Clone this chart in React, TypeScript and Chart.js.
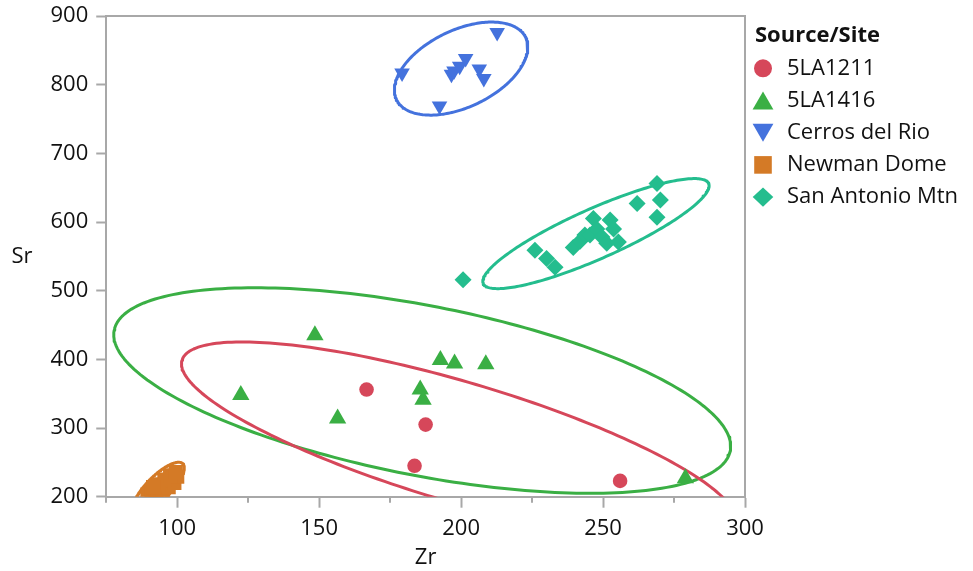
import { useEffect, useRef } from "react";
import { Chart, registerables } from "chart.js";

Chart.register(...registerables);

const FONT = '"Open Sans", "Noto Sans", sans-serif';
const GRAY = "#a8a8a8";
const TEXT = "#111111";

// ---- categories / styles
const groups = ["5LA1211", "5LA1416", "Cerros del Rio", "Newman Dome", "San Antonio Mtn"];
const colors = ["#d6475a", "#3aaf44", "#4472dd", "#d47a26", "#24bd8e"];

// ---- series values (Zr, Sr)
const zr5LA1211 = [166.7, 187.5, 183.6, 256.0];
const sr5LA1211 = [356, 305, 245, 223];

const zr5LA1416 = [122.4, 148.5, 156.5, 185.6, 186.6, 192.7, 197.7, 208.7, 279.0];
const sr5LA1416 = [348, 435, 314, 356, 341, 399, 394, 393, 227];

const zrCerros = [179.2, 192.4, 196.6, 199.5, 201.6, 206.4, 208.0, 212.7, 197.5];
const srCerros = [817, 769, 815, 827, 838, 823, 809, 876, 820];

const zrNewman = [89.5, 91, 92.5, 93, 94, 95, 96, 97, 98, 99, 100, 93.5, 95.5, 97.5, 99.5, 91.5];
const srNewman = [203, 206, 210, 204, 214, 209, 219, 214, 224, 220, 229, 218, 225, 231, 236, 214];

const zrSanAntonio = [200.7, 226.0, 230.1, 233.1, 239.5, 241.9, 243.6, 245.4, 246.6, 247.8, 249.6, 251.3, 252.5, 253.7, 255.4, 262.0, 269.0, 270.2, 269.0];
const srSanAntonio = [516, 559, 547, 534, 563, 572, 581, 581, 605, 590, 578, 569, 603, 590, 571, 627, 656, 632, 607];

// ---- density ellipses (center and two conjugate semi-axes, data units), one per group
const ellipseCx = [199.2, 186.3, 200.0, 93.5, 247.5];
const ellipseCy = [279.5, 354.6, 823.4, 213.0, 583.1];
const ellipseAx = [97.5, 108.5, 22.75, 8.48, 39.7];
const ellipseAy = [-119.3, -87.8, 45.2, 35.0, 72.9];
const ellipseBx = [-6.02, -5.76, 5.88, 3.0, 3.6];
const ellipseBy = [-83.9, -121.2, -50.5, -12.4, -33.3];

// ---- tick labels
const zrTicks = [100, 150, 200, 250, 300];
const zrMinorTicks = [75, 125, 175, 225, 275];
const srTicks = [200, 300, 400, 500, 600, 700, 800, 900];

const seriesZr = [zr5LA1211, zr5LA1416, zrCerros, zrNewman, zrSanAntonio];
const seriesSr = [sr5LA1211, sr5LA1416, srCerros, srNewman, srSanAntonio];
const pointStyles = ["circle", "triangle", "triangle", "rect", "rectRot"];
const pointRotations = [0, 0, 180, 0, 0];
const pointRadii = [7.3, 10, 9, 10, 8.5];

function ellipsePoints(i: number) {
  const pts: { x: number; y: number }[] = [];
  const n = 240;
  for (let k = 0; k <= n + 2; k++) {
    const t = (k / n) * Math.PI * 2;
    pts.push({
      x: ellipseCx[i] + ellipseAx[i] * Math.cos(t) + ellipseBx[i] * Math.sin(t),
      y: ellipseCy[i] + ellipseAy[i] * Math.cos(t) + ellipseBy[i] * Math.sin(t),
    });
  }
  return pts;
}

function drawLegendMarker(ctx: CanvasRenderingContext2D, i: number, cx: number, cy: number) {
  ctx.fillStyle = colors[i];
  ctx.beginPath();
  if (i === 0) {
    ctx.arc(cx, cy, 9, 0, Math.PI * 2);
  } else if (i === 1) {
    ctx.moveTo(cx, cy - 9);
    ctx.lineTo(cx + 10.4, cy + 9);
    ctx.lineTo(cx - 10.4, cy + 9);
  } else if (i === 2) {
    ctx.moveTo(cx - 10.4, cy - 9);
    ctx.lineTo(cx + 10.4, cy - 9);
    ctx.lineTo(cx, cy + 9);
  } else if (i === 3) {
    ctx.rect(cx - 8.8, cy - 8.8, 17.6, 17.6);
  } else {
    ctx.moveTo(cx - 10.3, cy);
    ctx.lineTo(cx, cy - 9.6);
    ctx.lineTo(cx + 10.3, cy);
    ctx.lineTo(cx, cy + 9.6);
  }
  ctx.closePath();
  ctx.fill();
}

const decorPlugin = {
  id: "decor",
  afterDraw(chart: any) {
    const { ctx, chartArea } = chart;
    const xs = chart.scales.x;
    ctx.save();
    // top and right frame
    ctx.strokeStyle = GRAY;
    ctx.lineWidth = 2;
    ctx.beginPath();
    ctx.moveTo(chartArea.left, chartArea.top);
    ctx.lineTo(chartArea.right, chartArea.top);
    ctx.lineTo(chartArea.right, chartArea.bottom);
    ctx.stroke();
    // minor ticks
    ctx.beginPath();
    zrMinorTicks.forEach((v) => {
      const px = Math.round(xs.getPixelForValue(v));
      ctx.moveTo(px, chartArea.bottom);
      ctx.lineTo(px, chartArea.bottom + 6);
    });
    ctx.stroke();
    // horizontal y-axis title
    ctx.fillStyle = TEXT;
    ctx.font = `22px ${FONT}`;
    ctx.textAlign = "center";
    ctx.textBaseline = "middle";
    ctx.fillText("Sr", 22, (chartArea.top + chartArea.bottom) / 2);
    // legend
    const lx = chartArea.right + 10;
    ctx.textAlign = "left";
    ctx.font = `bold 22px ${FONT}`;
    ctx.fillText("Source/Site", lx, chartArea.top + 20);
    ctx.font = `22px ${FONT}`;
    groups.forEach((g, i) => {
      const cy = chartArea.top + 52.3 + i * 32.2;
      drawLegendMarker(ctx, i, chartArea.right + 18, cy);
      ctx.fillStyle = TEXT;
      ctx.fillText(g, chartArea.right + 42, cy);
    });
    ctx.restore();
  },
};

export default function App() {
  const ref = useRef<HTMLCanvasElement | null>(null);
  useEffect(() => {
    if (!ref.current) return;
    const pointSets = groups.map((g, i) => ({
      label: g,
      data: seriesZr[i].map((x, k) => ({ x, y: seriesSr[i][k] })),
      pointStyle: pointStyles[i],
      rotation: pointRotations[i],
      pointRadius: pointRadii[i],
      backgroundColor: colors[i],
      borderColor: colors[i],
      borderWidth: 0,
      showLine: false,
      order: 1,
      clip: { left: 30, top: 30, right: 30, bottom: 0 },
    }));
    const ellipseSets = groups.map((g, i) => ({
      label: g + " ellipse",
      data: ellipsePoints(i),
      showLine: true,
      pointRadius: 0,
      borderColor: colors[i],
      borderWidth: 3,
      borderJoinStyle: "round",
      borderCapStyle: "round",
      fill: false,
      tension: 0,
      order: 10,
      clip: 0,
    }));
    const chart = new Chart(ref.current, {
      type: "scatter",
      data: { datasets: [...ellipseSets, ...pointSets] as any },
      options: {
        responsive: false,
        animation: false,
        layout: { padding: { left: 42.5, right: 228, top: 16, bottom: 0 } },
        plugins: { legend: { display: false }, tooltip: { enabled: false } },
        scales: {
          x: {
            type: "linear",
            min: 75,
            max: 300,
            afterBuildTicks: (s: any) => {
              s.ticks = zrTicks.map((v) => ({ value: v }));
            },
            border: { display: true, color: GRAY, width: 2 },
            grid: { display: true, drawOnChartArea: false, drawTicks: true, tickLength: 11, tickWidth: 2, tickColor: GRAY },
            ticks: { padding: 8, color: TEXT, font: { family: FONT, size: 22 }, maxRotation: 0, autoSkip: false },
            title: { display: true, text: "Zr", color: TEXT, font: { family: FONT, size: 22 }, padding: { top: -5.5, bottom: 0 } },
          },
          y: {
            type: "linear",
            min: 200,
            max: 900,
            afterBuildTicks: (s: any) => {
              s.ticks = srTicks.map((v) => ({ value: v }));
            },
            border: { display: true, color: GRAY, width: 2 },
            grid: { display: true, drawOnChartArea: false, drawTicks: true, tickLength: 10, tickWidth: 2, tickColor: GRAY },
            ticks: { padding: 8, color: TEXT, font: { family: FONT, size: 22, lineHeight: 0.7 }, autoSkip: false },
          },
        },
      },
      plugins: [decorPlugin],
    });
    return () => chart.destroy();
  }, []);
  return (
    <div style={{ position: "absolute", left: 0, top: 0, width: 973, height: 571 }}>
      <canvas ref={ref} width={973} height={571} style={{ width: 973, height: 571, display: "block" }} />
    </div>
  );
}
